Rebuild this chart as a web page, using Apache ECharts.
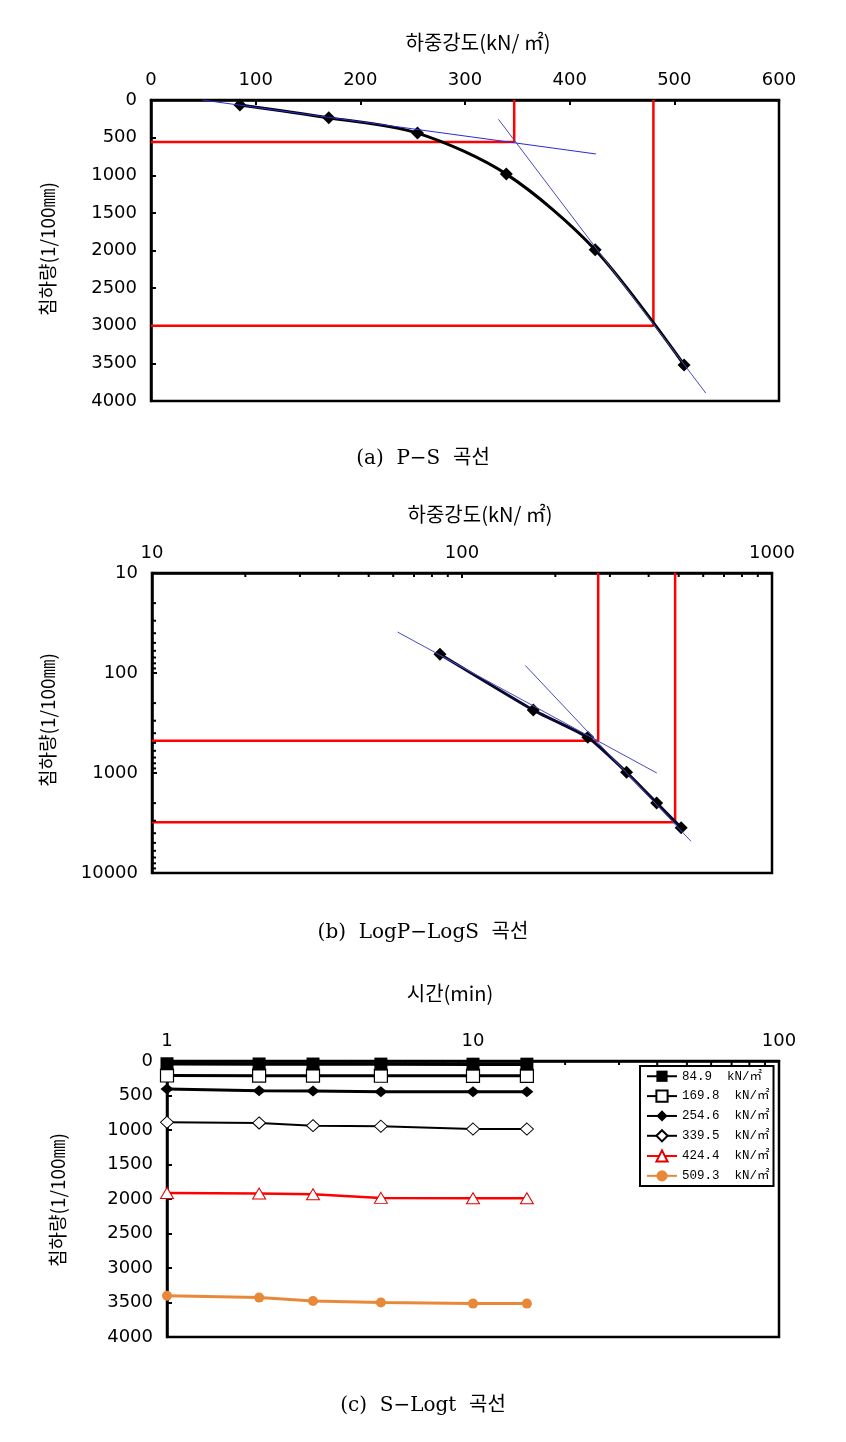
<!DOCTYPE html>
<html><head><meta charset="utf-8">
<script src="https://cdn.jsdelivr.net/npm/echarts@6/dist/echarts.min.js"></script>
<style>html,body{margin:0;padding:0;background:#fff}#c{width:846px;height:1442px}</style>
</head><body><div id="c"></div>
<script>
// ---------- data ----------
const loads = [84.9, 169.8, 254.6, 339.5, 424.4, 509.3];          // kN/m2
const settlement = [65, 235, 440, 985, 1990, 3520];                // 1/100 mm
// P-S tangent lines and yield construction
const tangentPS1 = [[49, 0], [425, 717]];
const tangentPS2 = [[332, 257], [530, 3894]];
const yieldPS1 = [[347, 0], [347, 558], [0, 558]];
const yieldPS2 = [[480, 0], [480, 3000], [0, 3000]];
// LogP-LogS tangent lines and yield construction
const tangentLog1 = [[62, 39], [425, 1000]];
const tangentLog2 = [[160, 84], [548, 4820]];
const yieldLog1 = [[275, 10], [275, 475], [10, 475]];
const yieldLog2 = [[487, 10], [487, 3100], [10, 3100]];
// S-Logt
const times = [1, 2, 3, 5, 10, 15];
const stageNames = ['84.9  kN/㎡', '169.8  kN/㎡', '254.6  kN/㎡', '339.5  kN/㎡', '424.4  kN/㎡', '509.3  kN/㎡'];
const s849 = [40, 43, 44, 45, 46, 46];
const s1698 = [210, 212, 212, 214, 215, 215];
const s2546 = [405, 430, 435, 445, 447, 447];
const s3395 = [888, 898, 937, 946, 985, 985];
const s4244 = [1912, 1921, 1931, 1984, 1988, 1988];
const s5093 = [3401, 3429, 3477, 3501, 3516, 3516];
// tick labels
const psXTicks = [0, 100, 200, 300, 400, 500, 600];
const psYTicks = [0, 500, 1000, 1500, 2000, 2500, 3000, 3500, 4000];
const logMinor2 = [20, 30, 40, 50, 60, 70, 80, 90, 200, 300, 400, 500, 600, 700, 800, 900];
const logMinor3 = logMinor2.concat([2000, 3000, 4000, 5000, 6000, 7000, 8000, 9000]);
const timeMinor = [2, 3, 4, 5, 6, 7, 8, 9, 20, 30, 40, 50, 60, 70, 80, 90];

// ---------- helpers ----------
const FONT = 'DejaVu Sans';
const CJK = '"Noto Sans CJK KR", "DejaVu Sans"';
const pair = (xs, ys) => xs.map((x, i) => [x, ys[i]]);
const lbl = (m) => ({ margin: m, fontSize: 18, color: '#000', fontFamily: FONT, formatter: v => String(Math.round(v)) });
const tick = { show: true, inside: true, length: 5, lineStyle: { color: '#000', width: 2 } };
const line = { show: true, lineStyle: { color: '#000', width: 2.5 } };

function minorTicks(xi, xs, ys, xAt, yAt) {
  const data = xs.map(v => [v, yAt, 0]).concat(ys.map(v => [xAt, v, 1]));
  return {
    type: 'custom', xAxisIndex: xi, yAxisIndex: xi, silent: true, z: 10, clip: false,
    encode: { x: 0, y: 1 }, data,
    renderItem: (params, api) => {
      const p = api.coord([api.value(0), api.value(1)]);
      const f = api.value(2);
      return { type: 'line', shape: f === 0 ? { x1: p[0], y1: p[1], x2: p[0], y2: p[1] + 4 } : { x1: p[0], y1: p[1], x2: p[0] + 4, y2: p[1] },
        style: { stroke: '#000', lineWidth: 2 } };
    }
  };
}
function straight(xi, data, color, width, z) {
  return { type: 'line', xAxisIndex: xi, yAxisIndex: xi, data, symbol: 'none', silent: true, z: z,
    lineStyle: { color, width }, clip: false };
}

const chart = echarts.init(document.getElementById('c'));
const option = {
  backgroundColor: '#fff',
  animation: false,
  grid: [
    { left: 151, top: 100, width: 628, height: 301, show: true, borderColor: '#000', borderWidth: 2.5, containLabel: false, outerBoundsMode: 'none' },
    { left: 152, top: 573, width: 620, height: 300, show: true, borderColor: '#000', borderWidth: 2.5, containLabel: false, outerBoundsMode: 'none' },
    { left: 167, top: 1061, width: 612, height: 276, show: true, borderColor: '#000', borderWidth: 2.5, containLabel: false, outerBoundsMode: 'none' }
  ],
  xAxis: [
    { gridIndex: 0, type: 'value', position: 'top', min: psXTicks[0], max: psXTicks[psXTicks.length - 1], interval: 100,
      axisLine: line, axisTick: tick, axisLabel: lbl(11), splitLine: { show: false } },
    { gridIndex: 1, type: 'log', logBase: 10, position: 'top', min: 10, max: 1000,
      axisLine: line, axisTick: tick, axisLabel: lbl(11), splitLine: { show: false } },
    { gridIndex: 2, type: 'log', logBase: 10, position: 'top', min: 1, max: 100,
      axisLine: line, axisTick: tick, axisLabel: lbl(11), splitLine: { show: false } }
  ],
  yAxis: [
    { gridIndex: 0, type: 'value', inverse: true, min: psYTicks[0], max: psYTicks[psYTicks.length - 1], interval: 500,
      axisLine: line, axisTick: tick, axisLabel: lbl(14), splitLine: { show: false } },
    { gridIndex: 1, type: 'log', logBase: 10, inverse: true, min: 10, max: 10000,
      axisLine: line, axisTick: tick, axisLabel: lbl(14), splitLine: { show: false } },
    { gridIndex: 2, type: 'value', inverse: true, min: 0, max: 4000, interval: 500,
      axisLine: line, axisTick: tick, axisLabel: lbl(14), splitLine: { show: false } }
  ],
  legend: {
    data: stageNames, orient: 'vertical', left: 640, top: 1066,
    backgroundColor: '#fff', borderColor: '#000', borderWidth: 2, padding: [4, 4, 4, 6],
    itemWidth: 30, itemHeight: 14, itemGap: 7,
    textStyle: { fontSize: 12.5, fontFamily: '"Liberation Mono", ' + CJK, color: '#000' }
  },
  graphic: [
    { type: 'text', x: 478, y: 42, style: { text: '하중강도(kN/ ㎡)', font: '20px ' + CJK, fill: '#000', align: 'center', verticalAlign: 'middle' } },
    { type: 'text', x: 48, y: 249, rotation: Math.PI / 2, style: { text: '침하량(1/100㎜)', font: '19px ' + CJK, fill: '#000', align: 'center', verticalAlign: 'middle' } },
    { type: 'text', x: 423, y: 459, style: { text: '(a)  P−S  곡선', font: '20px "DejaVu Serif", ' + CJK, fill: '#000', align: 'center', verticalAlign: 'middle' } },
    { type: 'text', x: 480, y: 514, style: { text: '하중강도(kN/ ㎡)', font: '20px ' + CJK, fill: '#000', align: 'center', verticalAlign: 'middle' } },
    { type: 'text', x: 48, y: 720, rotation: Math.PI / 2, style: { text: '침하량(1/100㎜)', font: '19px ' + CJK, fill: '#000', align: 'center', verticalAlign: 'middle' } },
    { type: 'text', x: 423, y: 933, style: { text: '(b)  LogP−LogS  곡선', font: '20px "DejaVu Serif", ' + CJK, fill: '#000', align: 'center', verticalAlign: 'middle' } },
    { type: 'text', x: 450, y: 993, style: { text: '시간(min)', font: '20px ' + CJK, fill: '#000', align: 'center', verticalAlign: 'middle' } },
    { type: 'text', x: 58, y: 1200, rotation: Math.PI / 2, style: { text: '침하량(1/100㎜)', font: '19px ' + CJK, fill: '#000', align: 'center', verticalAlign: 'middle' } },
    { type: 'text', x: 423, y: 1406, style: { text: '(c)  S−Logt  곡선', font: '20px "DejaVu Serif", ' + CJK, fill: '#000', align: 'center', verticalAlign: 'middle' } }
  ],
  series: [
    // (a) P-S
    straight(0, yieldPS1, '#ff0000', 2.5, 2),
    straight(0, yieldPS2, '#ff0000', 2.5, 2),
    { type: 'line', xAxisIndex: 0, yAxisIndex: 0, data: pair(loads, settlement), smooth: 0.3, clip: false,
      symbol: 'diamond', symbolSize: 13, itemStyle: { color: '#000' }, lineStyle: { color: '#000', width: 3 }, z: 4 },
    straight(0, tangentPS1, '#2a2ad8', 1, 5),
    straight(0, tangentPS2, '#4a4ac0', 1, 5),
    // (b) LogP-LogS
    straight(1, yieldLog1, '#ff0000', 2.5, 2),
    straight(1, yieldLog2, '#ff0000', 2.5, 2),
    { type: 'line', xAxisIndex: 1, yAxisIndex: 1, data: pair(loads, settlement), smooth: 0.15, clip: false,
      symbol: 'diamond', symbolSize: 13, itemStyle: { color: '#000' }, lineStyle: { color: '#0a0a30', width: 3 }, z: 4 },
    straight(1, tangentLog1, '#4a4ac0', 1, 5),
    straight(1, tangentLog2, '#4a4ac0', 1, 5),
    minorTicks(1, logMinor2, logMinor3, 10, 10),
    // (c) S-Logt
    { name: stageNames[0], type: 'line', xAxisIndex: 2, yAxisIndex: 2, data: pair(times, s849), clip: false,
      symbol: 'rect', symbolSize: 13, itemStyle: { color: '#000' }, lineStyle: { color: '#000', width: 3.5 }, z: 6 },
    { name: stageNames[1], type: 'line', xAxisIndex: 2, yAxisIndex: 2, data: pair(times, s1698), clip: false,
      symbol: 'rect', symbolSize: 13, itemStyle: { color: '#fff', borderColor: '#000', borderWidth: 1.2 }, lineStyle: { color: '#000', width: 3 }, z: 5 },
    { name: stageNames[2], type: 'line', xAxisIndex: 2, yAxisIndex: 2, data: pair(times, s2546), clip: false,
      symbol: 'diamond', symbolSize: [13, 11], itemStyle: { color: '#000' }, lineStyle: { color: '#000', width: 3 }, z: 5 },
    { name: stageNames[3], type: 'line', xAxisIndex: 2, yAxisIndex: 2, data: pair(times, s3395), clip: false,
      symbol: 'diamond', symbolSize: [13, 12], itemStyle: { color: '#fff', borderColor: '#000', borderWidth: 1 }, lineStyle: { color: '#000', width: 2 }, z: 5 },
    { name: stageNames[4], type: 'line', xAxisIndex: 2, yAxisIndex: 2, data: pair(times, s4244), clip: false,
      symbol: 'triangle', symbolSize: [13, 11], itemStyle: { color: '#fff', borderColor: '#e00000', borderWidth: 1 }, lineStyle: { color: '#ff0000', width: 2.5 }, z: 5 },
    { name: stageNames[5], type: 'line', xAxisIndex: 2, yAxisIndex: 2, data: pair(times, s5093), clip: false,
      symbol: 'circle', symbolSize: 10, itemStyle: { color: '#e8893a' }, lineStyle: { color: '#e8893a', width: 3 }, z: 5 },
    minorTicks(2, timeMinor, [], 1, 0)
  ]
};
chart.setOption(option);
</script></body></html>
